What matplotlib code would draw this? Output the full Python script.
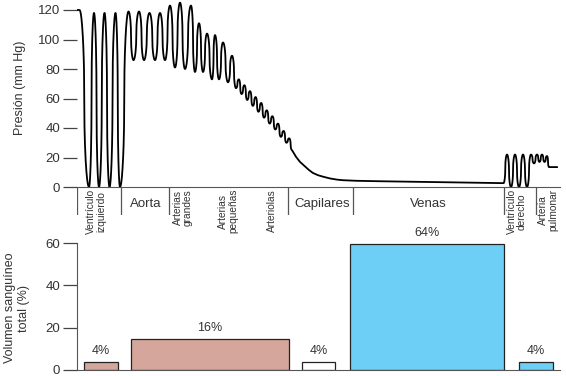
import numpy as np
import matplotlib
matplotlib.use("Agg")
import matplotlib.pyplot as plt

plt.rcParams['font.family'] = ['Liberation Sans', 'DejaVu Sans']

# ---- data ----
# pressure trace: extrema of the pulsatile parts (x along the circuit, mmHg)
osc_left_x = [0, 2.5, 12, 17, 22, 27.5, 32.5, 38.5, 43,
              51.5, 56.5, 62, 67, 72.5, 78, 83, 88,
              93, 98, 103, 108, 114, 118, 122, 126, 130, 135, 138, 142, 146, 151, 155, 159,
              161.8, 164.6, 167.4, 170.2, 173, 175.8, 178.6, 181.4, 184.2, 187, 189.8,
              192.6, 195.4, 198.2, 201, 203.8, 206.6, 209.4, 212.2, 215]
osc_left_p = [120, 120, 0, 118, 0, 118, 0, 118, 0,
              119, 86, 119, 86, 118, 86, 118, 86,
              123, 81, 125, 80, 123, 78, 111, 78, 104, 73, 103, 73, 98, 71, 89, 67,
              73, 63, 69, 59, 65, 55, 61, 51, 57, 47,
              52, 43, 48, 39, 43, 34, 38, 30, 33, 25]
# capillaries + veins: smooth fall
decay_x = [215, 219, 223, 228, 232, 236, 241, 246, 253, 260, 266, 280, 303, 340, 380, 425]
decay_p = [25, 20.5, 17, 14, 11.5, 9.5, 8, 7, 5.8, 5, 4.6, 4.2, 3.9, 3.5, 3.0, 2.6]
# right ventricle + pulmonary artery
osc_right_x = [425, 426.5, 430, 434, 438, 442, 446, 450, 454, 457,
               460, 462.5, 465, 467.5, 470, 472, 480]
osc_right_p = [2.6, 2.6, 22, 0, 22, 0, 22, 0, 22, 16,
               22, 17, 22, 17, 21, 13.5, 13.5]

# region labels below the trace
bounds = [0, 44, 92, 211, 276, 427, 459]
seg_names = ['Ventrículo\nizquierdo', 'Aorta', 'Arterias\ngrandes', 'Arterias\npequeñas',
             'Arteriolas', 'Capilares', 'Venas', 'Ventrículo\nderecho', 'Arteria\npulmonar']
seg_x = [19, 69, 106, 151, 195, 245, 351, 440, 471]
seg_vertical = [True, False, True, True, True, False, False, True, True]

# blood volume bars
bar_left = [7, 54, 225, 273, 442]
bar_width = [34, 158, 33, 154, 34]
bar_height = [3.6, 14.6, 3.6, 59.4, 3.6]
bar_text = ['4%', '16%', '4%', '64%', '4%']
bar_color = ['#d5a79c', '#d5a79c', '#ffffff', '#6ecff6', '#6ecff6']


def smooth_osc(xs, ps, n=40, k=0.45):
    # rounded hairpin-like easing between successive extrema
    out_x, out_p = [], []
    for i in range(len(xs) - 1):
        t = np.linspace(0, 1, n, endpoint=False)
        c = np.cos(np.pi * t)
        w = (1 - np.sign(c) * np.abs(c) ** k) / 2
        out_x.extend(xs[i] + (xs[i + 1] - xs[i]) * t)
        out_p.extend(ps[i] + (ps[i + 1] - ps[i]) * w)
    out_x.append(xs[-1])
    out_p.append(ps[-1])
    return np.array(out_x), np.array(out_p)


W, H = 566, 376


def box(l, t, r, b):
    return [l / W, 1 - b / H, (r - l) / W, (b - t) / H]


txt = '#333333'
fig = plt.figure(figsize=(W / 100, H / 100), dpi=100)

# ---- top: pressure ----
ax = fig.add_axes(box(77, 0, 560, 187))
x1, p1 = smooth_osc(osc_left_x, osc_left_p)
x3, p3 = smooth_osc(osc_right_x, osc_right_p)
xx = np.concatenate([x1, decay_x[1:], x3[1:]])
pp = np.concatenate([p1, decay_p[1:], p3[1:]])
ax.plot(xx, pp, color='black', lw=1.3, solid_joinstyle='round')
ax.set_xlim(0, 483)
ax.set_ylim(0, 187 / 1.475)
for s in ['top', 'right', 'left']:
    ax.spines[s].set_visible(False)
ax.spines['bottom'].set_color('#555555')
ax.set_xticks([])
ax.set_yticks([0, 20, 40, 60, 80, 100, 120])
ax.tick_params(axis='y', length=10, width=0.9, color='#444444', labelsize=9.5,
               labelcolor=txt, pad=2)
fig.text(20 / W, 1 - 88 / H, 'Presión (mm Hg)', rotation=90, ha='center', va='center',
         fontsize=9, color=txt)

# ---- label band ----
axb = fig.add_axes(box(77, 187, 560, 215))
axb.set_xlim(0, 483)
axb.set_ylim(0, 1)
axb.axis('off')
axb.vlines(bounds, 0, 1, color='#555555', lw=0.9)
for name, x, vert in zip(seg_names, seg_x, seg_vertical):
    if vert:
        axb.text(x, 0.93, name, rotation=90, ha='center', va='top', fontsize=7.3,
                 color=txt, multialignment='center', linespacing=1.0)
    else:
        axb.text(x, 0.4, name, ha='center', va='center', fontsize=9.5, color=txt)

# ---- bottom: blood volume ----
ax2 = fig.add_axes(box(77, 243, 560, 370))
ax2.bar(bar_left, bar_height, width=bar_width, align='edge', color=bar_color,
        edgecolor='#222222', linewidth=0.9)
for l, w, h, t in zip(bar_left, bar_width, bar_height, bar_text):
    ax2.annotate(t, (l + w / 2, h), xytext=(0, 4), textcoords='offset points',
                 ha='center', va='bottom', fontsize=9, color=txt, annotation_clip=False)
ax2.set_xlim(0, 483)
ax2.set_ylim(0, 60)
for s in ['top', 'right']:
    ax2.spines[s].set_visible(False)
ax2.spines['left'].set_color('#555555')
ax2.spines['bottom'].set_color('#555555')
ax2.set_xticks([])
ax2.set_yticks([0, 20, 40, 60])
ax2.tick_params(axis='y', length=10, width=0.9, color='#444444', labelsize=9.5,
                labelcolor=txt, pad=2)
fig.text(17 / W, 1 - 308 / H, 'Volumen sanguíneo\ntotal (%)', rotation=90, ha='center',
         va='center', fontsize=9, color=txt, multialignment='center')

fig.savefig('out.png', dpi=100)
